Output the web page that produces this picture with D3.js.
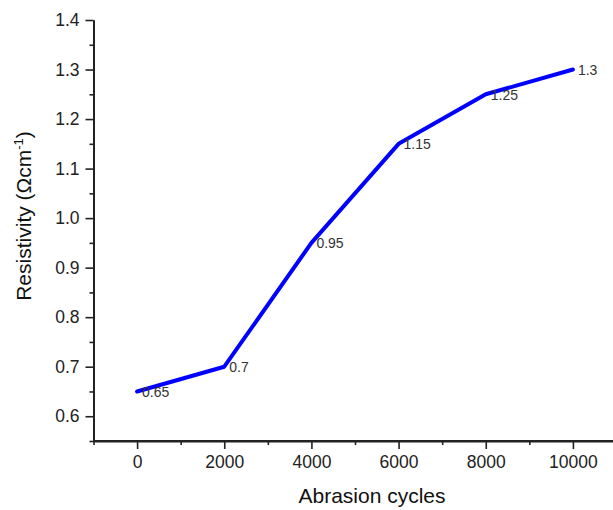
<!DOCTYPE html>
<html>
<head>
<meta charset="utf-8">
<script src="https://cdn.jsdelivr.net/npm/d3@7"></script>
<style>
  body { margin: 0; background: #fff; }
  svg { display: block; font-family: "Liberation Sans", Arial, sans-serif; }
</style>
</head>
<body>
<svg id="chart" width="613" height="510"></svg>
<script>
const cycles = [0, 2000, 4000, 6000, 8000, 10000];
const resistivity = [0.65, 0.7, 0.95, 1.15, 1.25, 1.3];
const pointLabels = ["0.65", "0.7", "0.95", "1.15", "1.25", "1.3"];
const xMajor = [0, 2000, 4000, 6000, 8000, 10000];
const xMinor = [-1000, 1000, 3000, 5000, 7000, 9000];
const yMajor = [0.6, 0.7, 0.8, 0.9, 1.0, 1.1, 1.2, 1.3, 1.4];
const yMinor = [0.55, 0.65, 0.75, 0.85, 0.95, 1.05, 1.15, 1.25, 1.35];

const svg = d3.select("#chart");
const x = d3.scaleLinear().domain([-1000, 11000]).range([93.5, 616.5]);
const y = d3.scaleLinear().domain([0.55, 1.4]).range([441, 20]);
const axisColor = "#222";
const fontFam = "'Liberation Sans', Arial, sans-serif";

// minor ticks first, then major axes on top
svg.append("g").attr("transform", "translate(0,441)")
  .call(d3.axisBottom(x).tickValues(xMinor).tickSize(4).tickSizeOuter(0).tickFormat(""));
svg.append("g").attr("transform", "translate(93.5,0)")
  .call(d3.axisLeft(y).tickValues(yMinor).tickSize(4).tickSizeOuter(0).tickFormat(""));

const xAxis = svg.append("g").attr("transform", "translate(0,441)")
  .call(d3.axisBottom(x).tickValues(xMajor).tickSize(8).tickSizeOuter(0).tickPadding(7).tickFormat(d3.format("d")))
  .attr("font-size", 17.5).attr("font-family", fontFam);
const yAxis = svg.append("g").attr("transform", "translate(93.5,0)")
  .call(d3.axisLeft(y).tickValues(yMajor).tickSize(8).tickSizeOuter(0).tickPadding(6).tickFormat(d3.format(".1f")))
  .attr("font-size", 17.5).attr("font-family", fontFam);

svg.selectAll(".domain").attr("stroke", axisColor).attr("stroke-width", 2);
svg.selectAll(".tick line").attr("stroke", axisColor).attr("stroke-width", 1.6);
svg.selectAll(".tick text").attr("fill", "#222");
svg.select("g").select(".domain").attr("d", `M${x(-1000)},0H613`);

const pts = cycles.map((c, i) => [c, resistivity[i]]);
svg.append("path").datum(pts)
  .attr("fill", "none").attr("stroke", "#0000ff").attr("stroke-width", 4)
  .attr("stroke-linejoin", "round").attr("stroke-linecap", "round")
  .attr("d", d3.line().x(d => x(d[0])).y(d => y(d[1])));

svg.append("g").attr("font-size", 14).attr("font-family", fontFam)
  .selectAll("text").data(pts).enter().append("text")
  .attr("x", d => x(d[0]) + 5).attr("y", d => y(d[1]) + 5.5)
  .attr("fill", "#333")
  .text((d, i) => pointLabels[i]);

svg.append("text").attr("x", 372).attr("y", 503).attr("text-anchor", "middle")
  .attr("fill", "#111").attr("font-size", 21).text("Abrasion cycles");

const yt = svg.append("text").attr("transform", "translate(31,216) rotate(-90)")
  .attr("text-anchor", "middle").attr("fill", "#111").attr("font-size", 21);
yt.append("tspan").text("Resistivity (Ωcm");
yt.append("tspan").attr("dy", -8).attr("font-size", 13).text("-1");
yt.append("tspan").attr("dy", 8).text(")");
</script>
</body>
</html>
